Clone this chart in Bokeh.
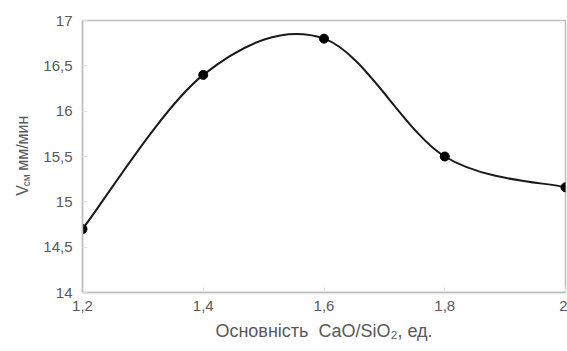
import math
from bokeh.plotting import figure
from bokeh.layouts import row
from bokeh.models import FixedTicker, Range1d
from bokeh.core.properties import value
from bokeh.embed import file_html
from bokeh.resources import INLINE

# data
basicity = [1.2, 1.4, 1.6, 1.8, 2.0]
speed = [14.7, 16.4, 16.8, 15.5, 15.16]
x_ticks = [1.2, 1.4, 1.6, 1.8, 2.0]
x_tick_labels = ["1,2", "1,4", "1,6", "1,8", "2"]
y_ticks = [14, 14.5, 15, 15.5, 16, 16.5, 17]
y_tick_labels = ["14", "14,5", "15", "15,5", "16", "16,5", "17"]
y_title_parts = ["V", "см", "мм/мин"]

FONT = "Liberation Sans"
TXT = "#595959"
GRID = "#bfbfbf"
W, H, LW = 567, 351, 40

p = figure(width=W - LW, height=H, output_backend="svg", toolbar_location=None,
           x_range=Range1d(1.2, 2.0), y_range=Range1d(14, 17),
           min_border_left=82 - LW, min_border_right=2, min_border_top=20, min_border_bottom=59)
p.xgrid.visible = False
p.ygrid.visible = False
p.outline_line_color = GRID
p.outline_line_width = 1.5

for ax, ticks, labels in ((p.xaxis[0], x_ticks, x_tick_labels), (p.yaxis[0], y_ticks, y_tick_labels)):
    ax.ticker = FixedTicker(ticks=ticks)
    ax.major_label_overrides = {t: l for t, l in zip(ticks, labels)}
    ax.axis_line_color = GRID
    ax.axis_line_width = 1.5
    ax.major_tick_line_color = "#e0e0e0"
    ax.major_tick_in = 5
    ax.major_tick_out = 0
    ax.minor_tick_line_color = None
    ax.major_label_text_font = FONT
    ax.major_label_text_font_size = "15px"
    ax.major_label_text_color = TXT

p.xaxis.major_label_standoff = 8
p.yaxis.major_label_standoff = 10
p.xaxis.axis_label = "Основність\u00a0\u00a0CaO/SiO₂, ед."
p.xaxis.axis_label_text_font = FONT
p.xaxis.axis_label_text_font_size = "18px"
p.xaxis.axis_label_text_font_style = "normal"
p.xaxis.axis_label_text_color = TXT
p.xaxis.axis_label_standoff = 7

# smoothed line (Bezier segments built from the data points)
n = len(basicity)
x0s, y0s, x1s, y1s, cx0s, cy0s, cx1s, cy1s = [], [], [], [], [], [], [], []
for i in range(n - 1):
    pa = max(i - 1, 0)
    pb = min(i + 2, n - 1)
    x0s.append(basicity[i]); y0s.append(speed[i])
    x1s.append(basicity[i + 1]); y1s.append(speed[i + 1])
    cx0s.append(basicity[i] + (basicity[i + 1] - basicity[pa]) / 6)
    cy0s.append(speed[i] + (speed[i + 1] - speed[pa]) / 6)
    cx1s.append(basicity[i + 1] - (basicity[pb] - basicity[i]) / 6)
    cy1s.append(speed[i + 1] - (speed[pb] - speed[i]) / 6)

p.bezier(x0=x0s, y0=y0s, x1=x1s, y1=y1s, cx0=cx0s, cy0=cy0s, cx1=cx1s, cy1=cy1s,
         line_color="#1a1a1a", line_width=2)
p.scatter(basicity, speed, size=9, color="black")

# left strip holding the rotated y-axis title with subscript
t = figure(width=LW, height=H, output_backend="svg", toolbar_location=None,
           x_range=Range1d(0, LW), y_range=Range1d(0, H),
           min_border=0, x_axis_type=None, y_axis_type=None)
t.xgrid.visible = False
t.ygrid.visible = False
t.outline_line_color = None
common = dict(angle=math.pi / 2, text_font=value(FONT), text_color=TXT,
              text_baseline="middle", text_align="left")
t.text(x=[22], y=[H - 226], text=[y_title_parts[0]], text_font_size="16px", **common)
t.text(x=[26], y=[H - 214], text=[y_title_parts[1]], text_font_size="10px", **common)
t.text(x=[22], y=[H - 194], text=[y_title_parts[2]], text_font_size="16px", **common)

open("out.html", "w").write(file_html(row(t, p, spacing=0), INLINE))
